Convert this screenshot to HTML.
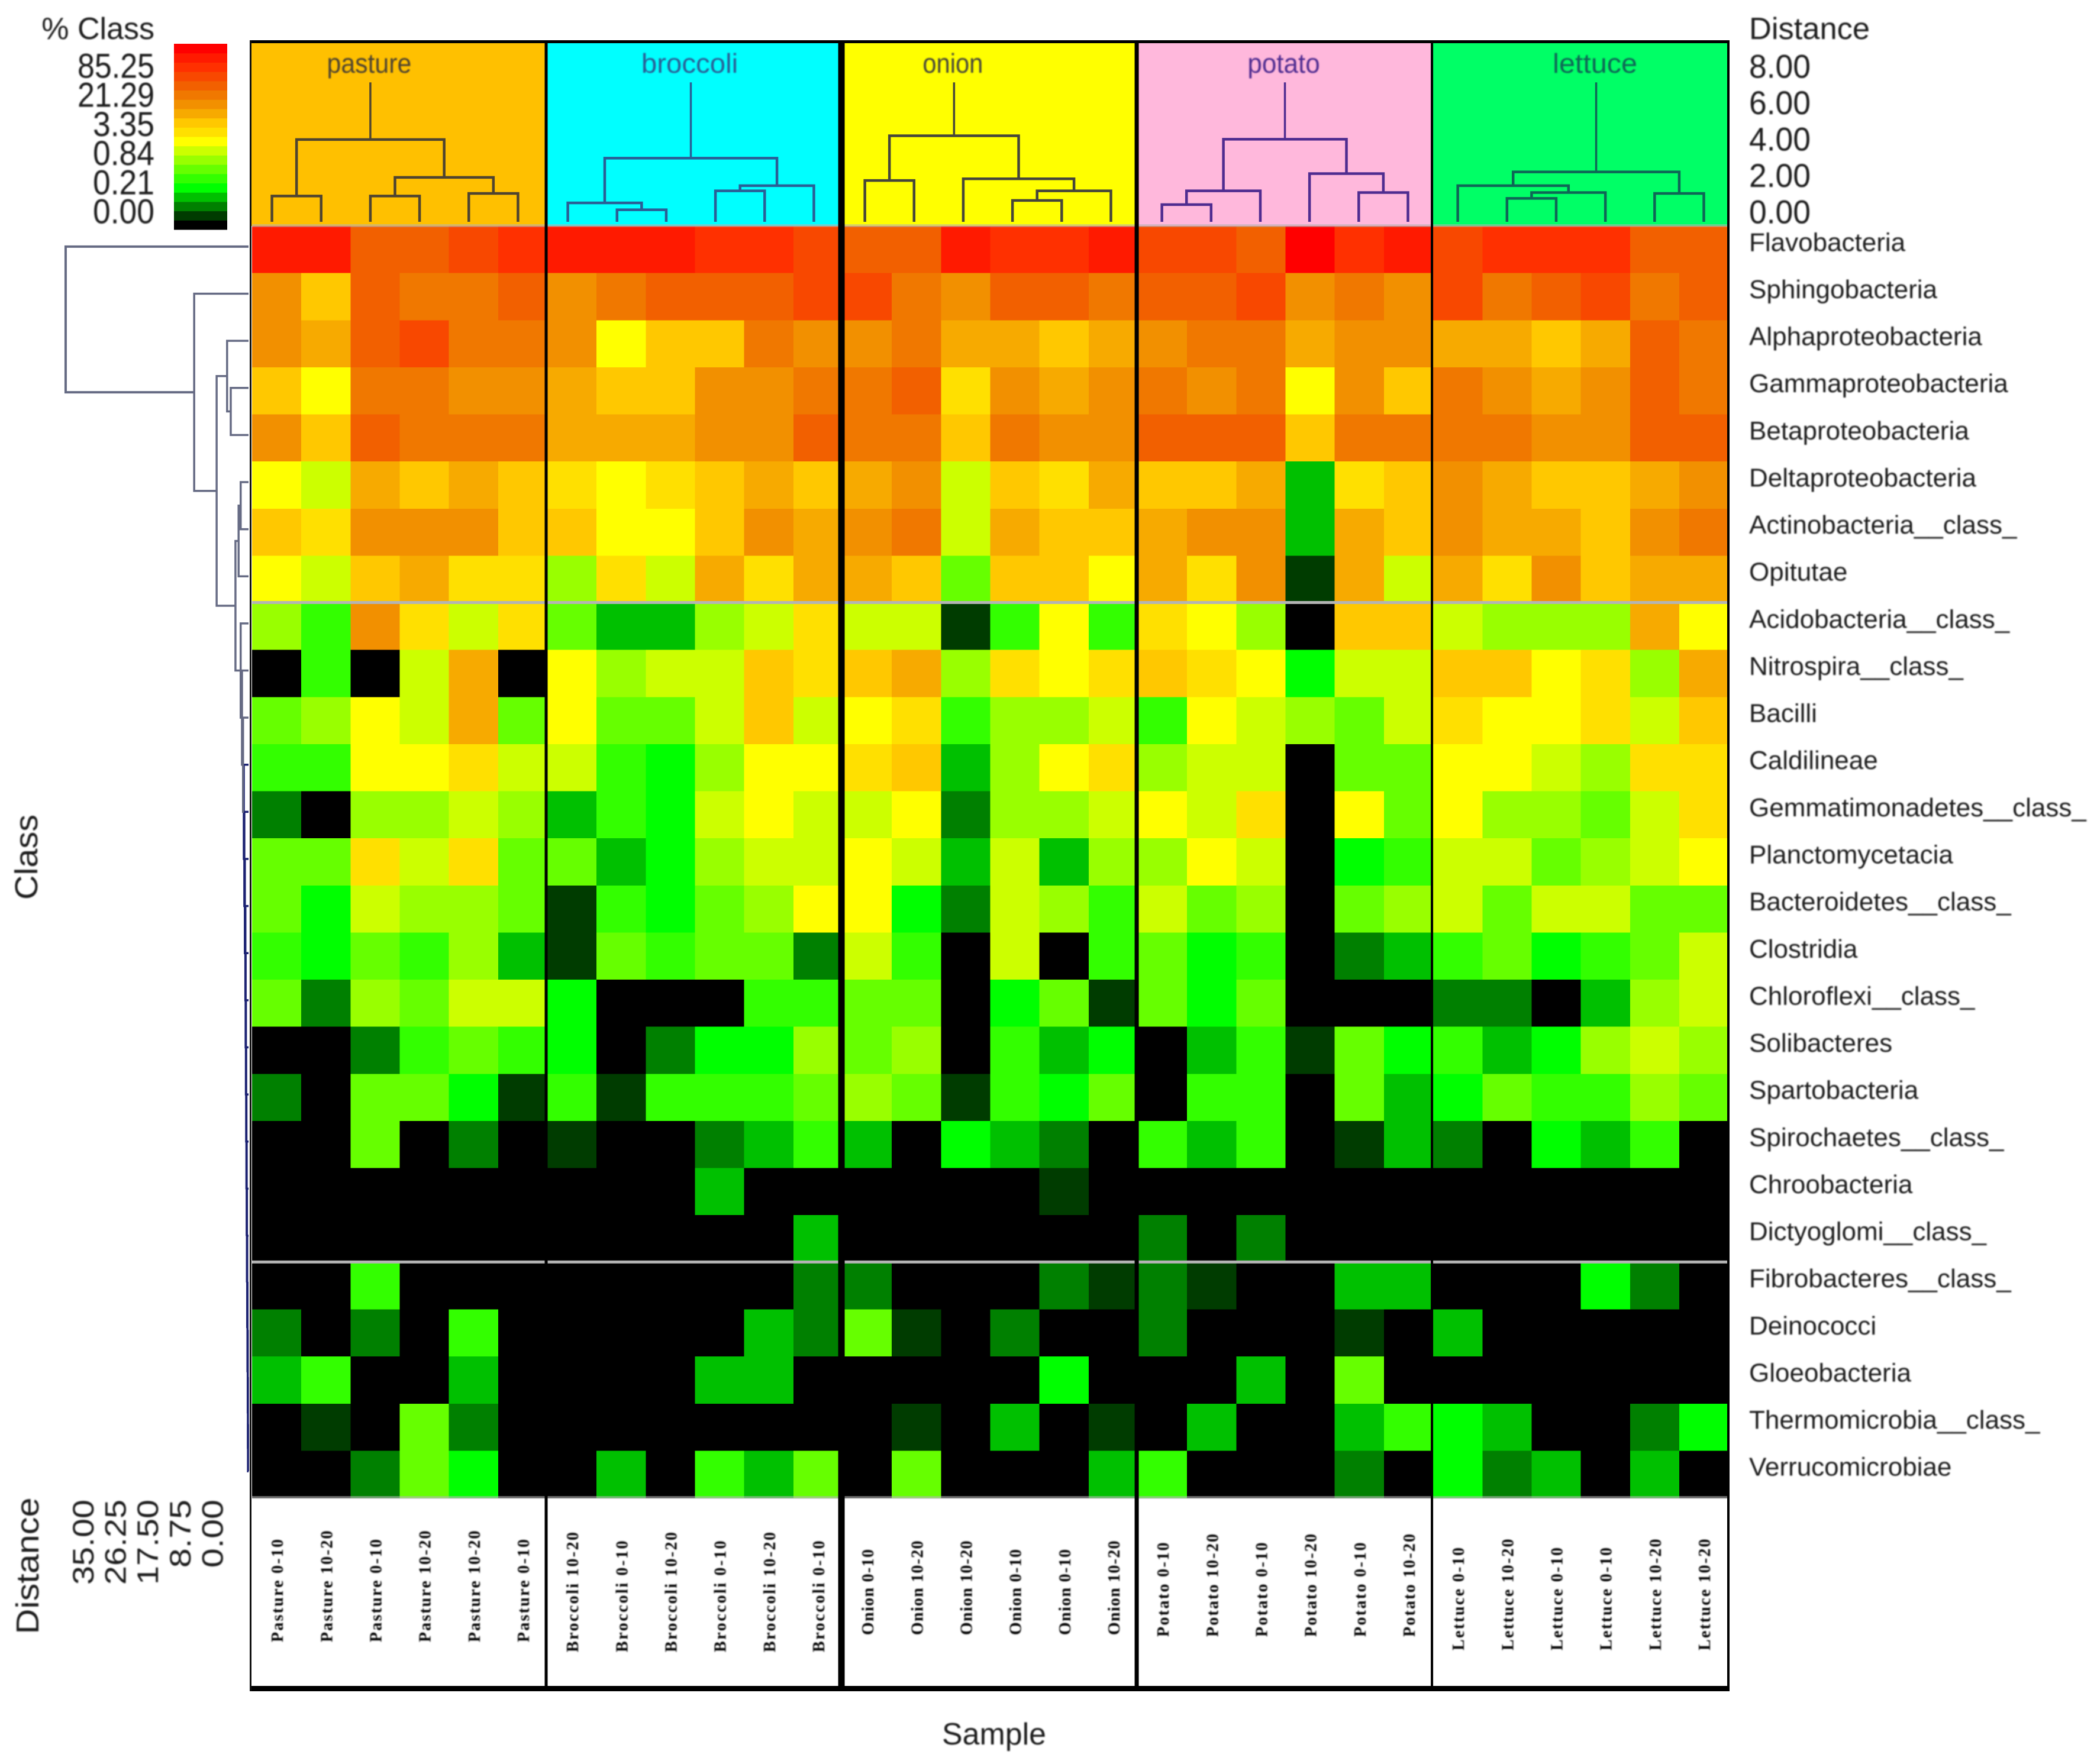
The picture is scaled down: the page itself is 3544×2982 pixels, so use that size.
<!DOCTYPE html>
<html lang="en">
<head>
<meta charset="utf-8">
<title>Class abundance heatmap</title>
<style>
  html,body{margin:0;padding:0;background:#fff;}
  svg{display:block;}
  text{font-family:"Liberation Sans",sans-serif;fill:#1c1c1c;}
  .soft{filter:blur(1.1px);}
</style>
</head>
<body>
<svg id="chart" xmlns="http://www.w3.org/2000/svg" width="3544" height="2982" viewBox="0 0 3544 2982"></svg>
<script>
const classNames = ["Flavobacteria","Sphingobacteria","Alphaproteobacteria","Gammaproteobacteria","Betaproteobacteria","Deltaproteobacteria","Actinobacteria__class_","Opitutae","Acidobacteria__class_","Nitrospira__class_","Bacilli","Caldilineae","Gemmatimonadetes__class_","Planctomycetacia","Bacteroidetes__class_","Clostridia","Chloroflexi__class_","Solibacteres","Spartobacteria","Spirochaetes__class_","Chroobacteria","Dictyoglomi__class_","Fibrobacteres__class_","Deinococci","Gloeobacteria","Thermomicrobia__class_","Verrucomicrobiae"];
const sampleNames = ["Pasture 0-10","Pasture 10-20","Pasture 0-10","Pasture 10-20","Pasture 10-20","Pasture 0-10","Broccoli 10-20","Broccoli 0-10","Broccoli 10-20","Broccoli 0-10","Broccoli 10-20","Broccoli 0-10","Onion 0-10","Onion 10-20","Onion 10-20","Onion 0-10","Onion 0-10","Onion 10-20","Potato 0-10","Potato 10-20","Potato 0-10","Potato 10-20","Potato 0-10","Potato 10-20","Lettuce 0-10","Lettuce 10-20","Lettuce 0-10","Lettuce 0-10","Lettuce 10-20","Lettuce 10-20"];
const groupNames = ["pasture","broccoli","onion","potato","lettuce"];
const legendTicks = ["85.25","21.29","3.35","0.84","0.21","0.00"];
const sampleDistanceTicks = ["8.00","6.00","4.00","2.00","0.00"];
const classDistanceTicks = ["35.00","26.25","17.50","8.75","0.00"];
/* Colour-scale step (0 = black/absent ... 19 = red/most abundant) for each class row and sample column */
const abundanceLevels = [
[18,18,15,15,16,17, 18,18,18,17,17,16, 15,15,18,17,17,18, 16,16,15,19,17,18, 16,17,17,17,15,15],
[13,11,15,14,14,15, 13,14,15,15,15,16, 16,14,13,15,15,14, 15,15,16,13,14,13, 16,14,15,16,14,15],
[13,12,15,16,14,14, 13,9,11,11,14,13, 13,14,12,12,11,12, 13,14,14,12,13,13, 12,12,11,12,15,14],
[11,9,14,14,13,13, 12,11,11,13,13,14, 14,15,10,13,12,13, 14,13,14,9,13,11, 14,13,12,13,15,14],
[13,11,15,14,14,14, 12,12,12,13,13,15, 14,14,11,14,13,13, 15,15,15,11,14,14, 14,14,13,13,15,15],
[9,8,12,11,12,11, 10,9,10,11,12,11, 12,13,8,11,10,12, 11,11,12,3,10,11, 13,12,11,11,12,13],
[11,10,13,13,13,11, 11,9,9,11,13,12, 13,14,8,12,11,11, 12,13,13,3,12,11, 13,12,12,11,13,14],
[9,8,11,12,10,10, 7,10,8,12,10,12, 12,11,6,11,11,9, 12,10,13,1,12,8, 12,10,13,11,12,12],
[7,5,13,10,8,10, 6,3,3,7,8,10, 8,8,1,5,9,5, 10,9,7,0,11,11, 8,7,7,7,12,9],
[0,5,0,8,12,0, 9,7,8,8,11,10, 11,12,7,10,9,10, 11,10,9,4,8,8, 11,11,9,10,7,12],
[6,7,9,8,12,6, 9,6,6,8,11,8, 9,10,5,7,7,8, 5,9,8,7,6,8, 10,9,9,10,8,11],
[5,5,9,9,10,8, 8,5,4,7,9,9, 10,11,3,7,9,10, 7,8,8,0,6,6, 9,9,8,7,10,10],
[2,0,7,7,8,7, 3,5,4,8,9,8, 8,9,2,7,7,8, 9,8,10,0,9,6, 9,7,7,6,8,10],
[6,6,10,8,10,6, 6,3,4,7,8,8, 9,8,3,8,3,7, 7,9,8,0,4,5, 8,8,6,7,8,9],
[6,4,8,7,7,6, 1,5,4,6,7,9, 9,4,2,8,7,5, 8,6,7,0,6,7, 8,6,8,8,6,6],
[5,4,6,5,7,3, 1,6,5,6,6,2, 8,5,0,8,0,5, 6,4,5,0,2,3, 5,6,4,5,6,8],
[6,2,7,6,8,8, 4,0,0,0,5,5, 6,6,0,4,6,1, 6,4,6,0,0,0, 2,2,0,3,7,8],
[0,0,2,5,6,5, 4,0,2,4,4,7, 6,7,0,5,3,4, 0,3,5,1,6,4, 5,3,4,7,8,7],
[2,0,6,6,4,1, 5,1,5,5,5,6, 7,6,1,5,4,6, 0,5,5,0,6,3, 4,6,5,5,7,6],
[0,0,6,0,2,0, 1,0,0,2,3,5, 3,0,4,3,2,0, 5,3,5,0,1,3, 2,0,4,3,5,0],
[0,0,0,0,0,0, 0,0,0,3,0,0, 0,0,0,0,1,0, 0,0,0,0,0,0, 0,0,0,0,0,0],
[0,0,0,0,0,0, 0,0,0,0,0,3, 0,0,0,0,0,0, 2,0,2,0,0,0, 0,0,0,0,0,0],
[0,0,5,0,0,0, 0,0,0,0,0,2, 2,0,0,0,2,1, 2,1,0,0,3,3, 0,0,0,4,2,0],
[2,0,2,0,5,0, 0,0,0,0,3,2, 6,1,0,2,0,0, 2,0,0,0,1,0, 3,0,0,0,0,0],
[3,5,0,0,3,0, 0,0,0,3,3,0, 0,0,0,0,4,0, 0,0,3,0,6,0, 0,0,0,0,0,0],
[0,1,0,6,2,0, 0,0,0,0,0,0, 0,1,0,3,0,1, 0,3,0,0,3,5, 4,3,0,0,2,4],
[0,0,2,6,4,0, 0,3,0,5,3,6, 0,6,0,0,0,3, 5,0,0,0,2,0, 4,2,3,0,3,0]
];
/* Sample dendrogram merges per group: [childA, childB, distance]; ids 0-5 are leaves, 6+ earlier merges */
const pastureMerges = [[0,1,1.5],[2,3,1.5],[4,5,1.65],[7,8,2.58],[6,9,4.78]];
const broccoliMerges = [[1,2,0.7],[0,6,1.1],[3,4,1.8],[8,5,2.1],[7,9,3.7]];
const onionMerges = [[0,1,2.4],[3,4,1.24],[7,5,1.8],[2,8,2.5],[6,9,5.0]];
const potatoMerges = [[0,1,1.0],[6,2,1.8],[4,5,1.7],[3,8,2.8],[7,9,4.8]];
const lettuceMerges = [[1,2,1.36],[6,3,1.7],[0,7,2.1],[4,5,1.65],[8,9,2.9]];
const sampleRootTop = 8.1;
/* Class dendrogram merges: ids 0-26 are rows, 27+ earlier merges */
const classMerges = [[25,26,0.1],[24,27,0.12],[23,28,0.15],[22,29,0.2],[21,30,0.25],[20,31,0.3],[19,32,0.35],[18,33,0.4],[17,34,0.45],[16,35,0.5],[15,36,0.55],[14,37,0.6],[13,38,0.7],[12,39,0.8],[11,40,0.9],[10,41,1.05],[9,42,1.25],[8,43,1.5],[5,6,1.5],[45,7,1.9],[46,44,2.5],[3,4,3.4],[2,48,4.1],[49,47,6.1],[1,50,10.4],[0,51,35]];

const groupMerges = [pastureMerges, broccoliMerges, onionMerges, potatoMerges, lettuceMerges];
const groupFills = ["#ffc000","#00ffff","#ffff00","#ffb8dc","#00ff66"];
const groupInk = ["#4f4430","#2a5f96","#46463a","#4f2c90","#0f6656"];
const palette = ["#000000","#003c00","#008000","#00c000","#00ff00","#33ff00","#66ff00","#99ff00","#ccff00","#ffff00","#ffe000","#ffc800","#f7aa00","#f29000","#f07800","#f26000","#f84800","#ff3000","#ff1a00","#ff0000"];

const NS = "http://www.w3.org/2000/svg";
const svg = document.getElementById("chart");
const heatLeft = 426, heatTop = 382, colW = 83.17, rowH = 79.63;
const xCol = c => heatLeft + c * colW;
const yRow = r => heatTop + r * rowH;
const ySampleDist = d => 375 - 29.1 * d;
const xClassDist = d => 420 - 8.83 * d;
const colourOf = v => palette[Math.max(0, Math.min(palette.length - 1, Math.round(v)))];
/* horizontal nudge of each group's dendrogram inside its panel */
const leafNudge = g => -8 + (g > 2 ? 7 + (g - 3) : g > 1 ? 4 : g);

function mk(tag, attrs, parent) {
  const el = document.createElementNS(NS, tag);
  for (const k in attrs) el.setAttribute(k, attrs[k]);
  (parent || svg).appendChild(el);
  return el;
}
function addText(str, attrs, parent) {
  const el = mk("text", attrs, parent);
  el.textContent = str;
  return el;
}

/* panels */
groupNames.forEach((g, i) => {
  const x0 = xCol(i * 6) - 2;
  const header = mk("rect", {x: x0, y: 70, width: colW * 6, height: 312, fill: groupFills[i]});
  
  
});
const samplePanel = mk("rect", {x: 424, y: 2532, width: 2497, height: 320, fill: "#ffffff"});



/* heatmap cells */
abundanceLevels.forEach((row, r) => {
  row.forEach((v, c) => {
    const cell = mk("rect", {x: xCol(c), y: yRow(r), width: colW + 0.6, height: rowH + 0.6, fill: colourOf(v), "shape-rendering": "crispEdges"});
    
    
  });
});

/* gray separator rules */
[0, 8, 22, 27].forEach(r => {
  const rule = mk("rect", {x: 426, y: yRow(r) - 3, width: 2495, height: 5, fill: "#b4b4b4", opacity: (r === 0 || r === 27) ? 0.55 : 1});
  
  
});

/* frame and group dividers */
const dividerWidths = [5, 11, 7, 4];
dividerWidths.forEach((w, i) => {
  const div = mk("rect", {x: xCol((i + 1) * 6) - 2 - w / 2, y: 70, width: w, height: 2785, fill: "#000"});
  
  
});
const frameTop = mk("rect", {x: 422, y: 68, width: 2501, height: 5, fill: "#000"});


const frameBottom = mk("rect", {x: 422, y: 2850, width: 2501, height: 9, fill: "#000"});


const frameLeft = mk("rect", {x: 422, y: 68, width: 3, height: 2791, fill: "#111"});


const frameRight = mk("rect", {x: 2919, y: 68, width: 4, height: 2791, fill: "#000"});



/* sample dendrograms */
groupMerges.forEach((merges, g) => {
  const nodes = [];
  for (let k = 0; k < 6; k++) nodes.push({x: xCol(g * 6 + k + 0.5) + leafNudge(g), d: 0});
  let last = null;
  merges.forEach(m => {
    const a = nodes[m[0]], b = nodes[m[1]];
    const y = ySampleDist(m[2]);
    const link = mk("path", {d: `M${a.x} ${ySampleDist(a.d)}V${y}H${b.x}V${ySampleDist(b.d)}`, fill: "none", stroke: groupInk[g], "stroke-width": 4.5});
    
    
    last = {x: (a.x + b.x) / 2, d: m[2]};
    nodes.push(last);
  });
  const stem = mk("path", {d: `M${last.x} ${ySampleDist(last.d)}V${ySampleDist(sampleRootTop)}`, fill: "none", stroke: groupInk[g], "stroke-width": 3.5});
  
  
  const label = addText(groupNames[g], {x: last.x - 2, y: 107, "text-anchor": "middle", "dominant-baseline": "central", "font-size": 46, class: "soft", textLength: groupNames[g].length * 20.4, lengthAdjust: "spacingAndGlyphs", style: "fill:" + groupInk[g]});
  
  
});

/* class dendrogram */
const classNodes = classNames.map((_, r) => ({y: yRow(r + 0.5) - 5, d: 0}));
classMerges.forEach(m => {
  const a = classNodes[m[0]], b = classNodes[m[1]];
  const x = xClassDist(m[2]);
  const link = mk("path", {d: `M${xClassDist(a.d)} ${a.y}H${x}V${b.y}H${xClassDist(b.d)}`, fill: "none", stroke: m[2] > 1 ? "#666b84" : "#1c2272", "stroke-width": m[2] > 30 ? 4 : 3.5});
  
  
  classNodes.push({y: (a.y + b.y) / 2, d: m[2]});
});

/* row labels */
const textGroup = mk("g", {class: "soft"});


classNames.forEach((name, r) => {
  const t = addText(name, {x: 2956, y: yRow(r + 0.5) - 12, "dominant-baseline": "central", "font-size": 44}, textGroup);
  
  
});

/* sample labels */
const groupBaseY = [2776, 2793, 2764, 2767, 2790];
sampleNames.forEach((name, c) => {
  const x = xCol(c + 0.5) + 2;
  const y = groupBaseY[Math.floor(c / 6)];
  const t = addText(name, {x: x, y: y, transform: `rotate(-90 ${x} ${y})`, "dominant-baseline": "central", "font-size": 28, "font-weight": "bold", textLength: name.length * 14.5, lengthAdjust: "spacing", style: 'font-family:"Liberation Serif",serif;fill:#000'}, textGroup);
  
  
});

/* colour legend */
const legendTitle = addText("% Class", {x: 261, y: 49, "text-anchor": "end", "dominant-baseline": "central", "font-size": 52}, textGroup);


const stepH = 314 / palette.length;
palette.forEach((col, i) => {
  const swatch = mk("rect", {x: 294, y: 74 + (palette.length - 1 - i) * stepH, width: 90, height: stepH + 0.5, fill: col});
  
  
});
legendTicks.forEach((tick, i) => {
  const t = addText(tick, {x: 261, y: 112 + 49.2 * i, "text-anchor": "end", "dominant-baseline": "central", "font-size": 58, textLength: tick.length * 26, lengthAdjust: "spacingAndGlyphs"}, textGroup);
  
  
});

/* sample distance axis */
const rightTitle = addText("Distance", {x: 2956, y: 49, "dominant-baseline": "central", "font-size": 52, textLength: 204, lengthAdjust: "spacingAndGlyphs"}, textGroup);


sampleDistanceTicks.forEach((tick, i) => {
  const t = addText(tick, {x: 2956, y: 112 + 61.5 * i, "dominant-baseline": "central", "font-size": 56, textLength: 104, lengthAdjust: "spacingAndGlyphs"}, textGroup);
  
  
});

/* class distance axis */
classDistanceTicks.forEach((tick, i) => {
  const x = 141 + 54.6 * i, y = 2535;
  const t = addText(tick, {x: x, y: y, transform: `rotate(-90 ${x} ${y})`, "text-anchor": "end", "dominant-baseline": "central", "font-size": 50, textLength: tick.length * 28.8, lengthAdjust: "spacingAndGlyphs"}, textGroup);
  
  
});
const leftDist = addText("Distance", {x: 47, y: 2647, transform: "rotate(-90 47 2647)", "text-anchor": "middle", "dominant-baseline": "central", "font-size": 54, textLength: 231, lengthAdjust: "spacingAndGlyphs"}, textGroup);


const classTitle = addText("Class", {x: 45, y: 1449, transform: "rotate(-90 45 1449)", "text-anchor": "middle", "dominant-baseline": "central", "font-size": 54, textLength: 144, lengthAdjust: "spacingAndGlyphs"}, textGroup);


const sampleTitle = addText("Sample", {x: 1680, y: 2932, "text-anchor": "middle", "dominant-baseline": "central", "font-size": 52, textLength: 176, lengthAdjust: "spacingAndGlyphs"}, textGroup);


</script>
</body>
</html>
